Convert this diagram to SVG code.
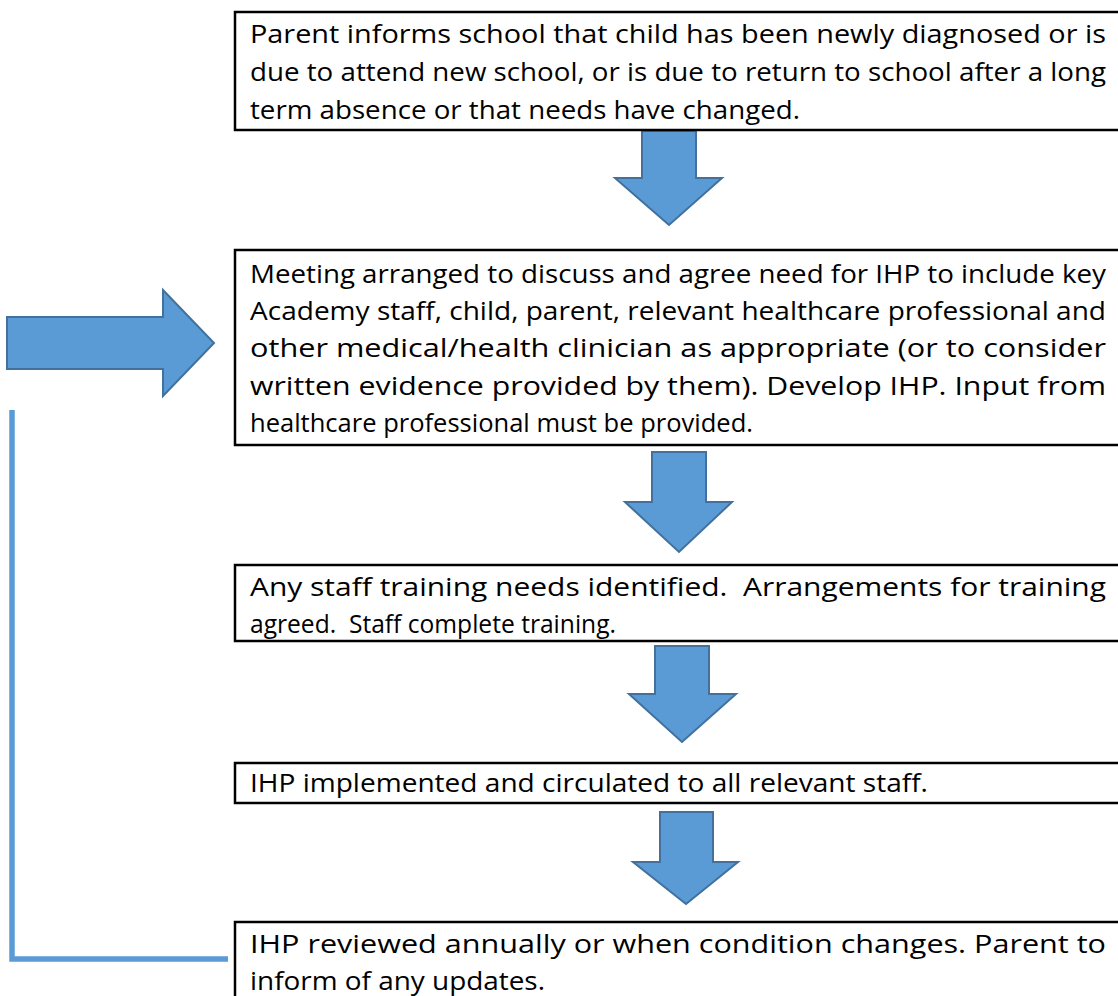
<svg xmlns="http://www.w3.org/2000/svg" width="1118" height="996" viewBox="0 0 1118 996">
<style>
.box{fill:#ffffff;stroke:#000000;stroke-width:2.5}
.t{font-family:"Open Sans","Noto Sans","Liberation Sans",sans-serif;font-size:25px;fill:#000000;white-space:pre}
.blk{fill:#5B9BD5;stroke:#41719C;stroke-width:2;stroke-linejoin:miter}
.loop{fill:none;stroke:#5B9BD5;stroke-width:5.5}
</style>
<rect width="1118" height="996" fill="#ffffff"/>
<g id="connectors">
<polygon class="blk" points="642,131 696,131 696,178 722,178 669,225 615,178 642,178"/>
<polygon class="blk" points="652,452 706,452 706,502 732,502 679,552 625,502 652,502"/>
<polygon class="blk" points="655,646 709,646 709,694 736,694 682,742 629,694 655,694"/>
<polygon class="blk" points="660,812 713,812 713,862 738,862 686,904 633,862 660,862"/>
<polygon class="blk" points="7,317 163,317 163,290 214,343 163,396 163,369 7,369"/>
<polyline class="loop" points="12,410 12,959 228,959"/>
</g>
<g id="node1">
<rect class="box" x="235" y="12" width="900" height="118"/>
<text class="t" x="250" y="43" textLength="856" lengthAdjust="spacingAndGlyphs">Parent informs school that child has been newly diagnosed or is</text>
<text class="t" x="250" y="81" textLength="856" lengthAdjust="spacingAndGlyphs">due to attend new school, or is due to return to school after a long</text>
<text class="t" x="250" y="119" textLength="550" lengthAdjust="spacingAndGlyphs">term absence or that needs have changed.</text>
</g>
<g id="node2">
<rect class="box" x="235" y="250" width="900" height="195"/>
<text class="t" x="250" y="283" textLength="856" lengthAdjust="spacingAndGlyphs">Meeting arranged to discuss and agree need for IHP to include key</text>
<text class="t" x="250" y="320" textLength="856" lengthAdjust="spacingAndGlyphs">Academy staff, child, parent, relevant healthcare professional and</text>
<text class="t" x="250" y="357" textLength="856" lengthAdjust="spacingAndGlyphs">other medical/health clinician as appropriate (or to consider</text>
<text class="t" x="250" y="395" textLength="856" lengthAdjust="spacingAndGlyphs">written evidence provided by them). Develop IHP. Input from</text>
<text class="t" x="250" y="432" textLength="503" lengthAdjust="spacingAndGlyphs">healthcare professional must be provided.</text>
</g>
<g id="node3">
<rect class="box" x="235" y="565" width="900" height="76"/>
<text class="t" x="250" y="596" textLength="856" lengthAdjust="spacingAndGlyphs" xml:space="preserve">Any staff training needs identified.  Arrangements for training</text>
<text class="t" x="250" y="633" textLength="366" lengthAdjust="spacingAndGlyphs" xml:space="preserve">agreed.  Staff complete training.</text>
</g>
<g id="node4">
<rect class="box" x="235" y="763" width="900" height="40"/>
<text class="t" x="250" y="792" textLength="678" lengthAdjust="spacingAndGlyphs">IHP implemented and circulated to all relevant staff.</text>
</g>
<g id="node5">
<rect class="box" x="235" y="922" width="900" height="100"/>
<text class="t" x="250" y="953" textLength="856" lengthAdjust="spacingAndGlyphs">IHP reviewed annually or when condition changes. Parent to</text>
<text class="t" x="250" y="990" textLength="295" lengthAdjust="spacingAndGlyphs">inform of any updates.</text>
</g>
</svg>
